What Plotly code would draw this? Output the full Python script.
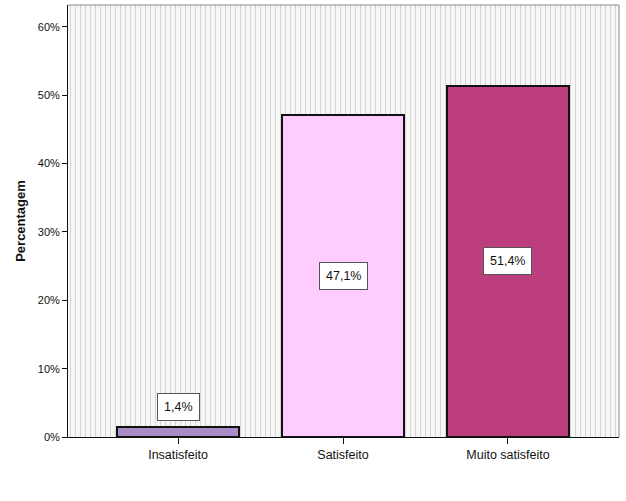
import plotly.graph_objects as go

categories = ["Insatisfeito", "Satisfeito", "Muito satisfeito"]
values = [1.4, 47.1, 51.4]
labels = ["1,4%", "47,1%", "51,4%"]
colors = ["#a98bc6", "#ffccff", "#bc3e7e"]
y_ticks = [0, 10, 20, 30, 40, 50, 60]
y_tick_text = [f"{t}%" for t in y_ticks]

x_pos = list(range(len(categories)))
x_min, x_max = -0.667, 2.673
y_max = 63.2

fig = go.Figure()

# dotted plot background
fig.add_trace(go.Bar(
    x=[(x_min + x_max) / 2], y=[y_max], width=[x_max - x_min],
    marker=dict(color="#f6f6f6", line=dict(width=0),
                pattern=dict(shape="|", fgcolor="#b4b4b4", bgcolor="#f6f6f6",
                             size=5, solidity=0.2)),
    hoverinfo="skip", showlegend=False,
))

fig.add_trace(go.Bar(
    x=x_pos, y=values, width=0.745,
    marker=dict(color=colors, line=dict(color="#111111", width=2)),
    hoverinfo="skip", showlegend=False,
))

for xi, v, lab in zip(x_pos, values, labels):
    if v > 10:
        fig.add_annotation(x=xi, y=v / 2, text=lab, showarrow=False,
                           yanchor="middle")
    else:
        fig.add_annotation(x=xi, y=v, text=lab, showarrow=False,
                           yanchor="bottom", yshift=6)

fig.update_annotations(font=dict(family="Liberation Sans, Arial", size=12.5, color="#111111"),
                       bgcolor="white", bordercolor="#555555", borderwidth=1, borderpad=6)

fig.update_layout(
    width=626, height=501,
    margin=dict(l=68, r=7, t=5, b=64),
    paper_bgcolor="white", plot_bgcolor="#f6f6f6",
    barmode="overlay", bargap=0,
    font=dict(family="Liberation Sans, Arial", size=11, color="#111111"),
    xaxis=dict(range=[x_min, x_max], tickvals=x_pos, ticktext=categories,
               showgrid=False, zeroline=False, showline=True, linecolor="#111111",
               linewidth=1, ticks="outside", ticklen=6, tickcolor="#111111",
               tickfont=dict(size=12.5), automargin=False),
    yaxis=dict(range=[0, y_max], tickvals=y_ticks, ticktext=y_tick_text,
               showgrid=False, zeroline=False, showline=True, linecolor="#111111",
               linewidth=1, ticks="outside", ticklen=5, tickcolor="#111111",
               tickfont=dict(size=11), automargin=False,
               title=dict(text="<b>Percentagem</b>", font=dict(size=13), standoff=9)),
    shapes=[
        dict(type="line", xref="paper", yref="paper", x0=0, x1=1, y0=1, y1=1,
             line=dict(color="#8a8a8a", width=1)),
        dict(type="line", xref="paper", yref="paper", x0=1, x1=1, y0=0, y1=1,
             line=dict(color="#8a8a8a", width=1)),
    ],
)

fig.write_html("out.html", config={"displayModeBar": False},
               post_script="document.body.style.margin='0px';")
